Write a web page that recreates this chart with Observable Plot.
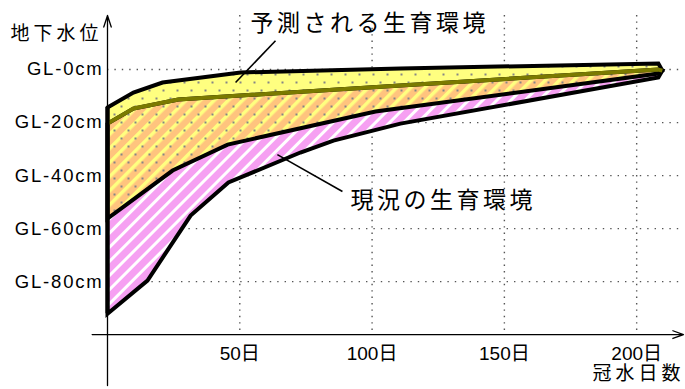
<!DOCTYPE html>
<html><head><meta charset="utf-8">
<script src="https://cdn.jsdelivr.net/npm/d3@7"></script>
<script src="https://cdn.jsdelivr.net/npm/@observablehq/plot@0.6"></script>
<style>body{margin:0;background:#fff} #chart svg{display:block}</style>
</head><body>
<svg width="0" height="0" style="position:absolute">
<defs>
 <pattern id="pinkStripes" width="10" height="10" patternUnits="userSpaceOnUse" patternTransform="rotate(-45)">
  <rect width="10" height="10" fill="#f6a0f2"/>
  <rect y="0" width="10" height="3" fill="#ffffff"/>
 </pattern>
 <pattern id="orangeStripes" width="10" height="10" patternUnits="userSpaceOnUse" patternTransform="rotate(-45)">
  <rect width="10" height="10" fill="#ffc47e"/>
  <rect y="0" width="10" height="3.5" fill="#ffff80"/>
 </pattern>
 <pattern id="dots" width="14" height="16" patternUnits="userSpaceOnUse">
  <rect x="1" y="1" width="2" height="2" fill="#858585"/>
  <rect x="8" y="9" width="2" height="2" fill="#858585"/>
 </pattern>
</defs></svg>
<div id="chart"></div>
<script>
// ---- data (days of flooding, depth below GL in cm) ----
const dayTicks = [50, 100, 150, 200];
const dayLabels = ["50日", "100日", "150日", "200日"];
const depthTicks = [0, 20, 40, 60, 80];
const depthLabels = ["GL-0cm", "GL-20cm", "GL-40cm", "GL-60cm", "GL-80cm"];

// predicted growth environment (upper / lower boundary)
const predictedUpper = [[0,14.3],[9.8,8.7],[20.8,4.9],[50.3,1.1],[110.7,-0.4],[208.2,-2.3],[209.7,0.4]];
const predictedLower = [[0,56.2],[24.6,38.1],[45.4,28.3],[101.3,15.8],[208.2,1.5],[209.7,0.4]];
// current growth environment (upper / lower boundary)
const currentUpper = [[0,20.4],[9.8,14.7],[26.8,11.3],[110.7,6.0],[208.2,0.0],[209.7,0.4]];
const currentLower = [[0,92.1],[15.1,79.6],[31.4,55.1],[45.7,42.6],[72.9,31.3],[85.4,26.8],[110.7,20.4],[208.2,3.0],[209.7,0.4]];

const callouts = [
  {label: "予測される生育環境", tx: 54.0, ty: -17.4, x1: 63.5, y1: -10.9, x2: 48.4, y2: 4.9},
  {label: "現況の生育環境", tx: 91.8, ty: 49.4, x1: 88.8, y1: 46.0, x2: 64.2, y2: 32.1}
];
const yTitle = "地下水位";
const xTitle = "冠水日数";

const ring = (a, b) => [...a, ...b.slice().reverse(), a[0]];
const predictedPoly = ring(predictedUpper, predictedLower);
const currentPoly = ring(currentUpper, currentLower);
const overlapPoly = ring(currentUpper, predictedLower);
const X = d => d[0], Y = d => d[1];

const font = "'Liberation Sans', 'Noto Sans CJK JP', sans-serif";
const xMin = -5.8, xMax = 217.7, yTop = -20.4, yBottom = 119.2;

const chart = Plot.plot({
  width: 685, height: 389,
  marginLeft: 107, marginRight: 2, marginTop: 15, marginBottom: 4,
  style: {fontFamily: font, background: "#fff", color: "#000"},
  x: {domain: [0, xMax], axis: null},
  y: {domain: [yTop, yBottom], reverse: true, axis: null},
  marks: [
    // grid
    Plot.ruleY(depthTicks, {x1: 0, x2: xMax, stroke: "#555", strokeWidth: 1.4, strokeDasharray: "1.4,6"}),
    Plot.ruleX(dayTicks, {y1: yTop, y2: 100, stroke: "#555", strokeWidth: 1.4, strokeDasharray: "1.4,5"}),
    // fills
    Plot.line(predictedPoly, {x: X, y: Y, fill: "#ffff80", stroke: "none"}),
    Plot.line(currentPoly, {x: X, y: Y, fill: "url(#pinkStripes)", stroke: "none"}),
    Plot.line(overlapPoly, {x: X, y: Y, fill: "url(#orangeStripes)", stroke: "none"}),
    Plot.line(predictedPoly, {x: X, y: Y, fill: "url(#dots)", stroke: "none"}),
    // outlines
    Plot.line(predictedPoly, {x: X, y: Y, stroke: "#000", strokeWidth: 4, strokeLinejoin: "miter", strokeMiterlimit: 4}),
    Plot.line(currentPoly, {x: X, y: Y, stroke: "#000", strokeWidth: 4, strokeLinejoin: "miter", strokeMiterlimit: 4}),
    Plot.line(currentUpper, {x: X, y: Y, stroke: "#7a7a00", strokeWidth: 4, strokeLinecap: "butt"}),
    Plot.ruleX([0], {y1: () => predictedUpper[0][1], y2: () => currentLower[0][1], stroke: "#000", strokeWidth: 4}),
    // axes
    Plot.arrow([0], {x1: xMin, y1: 100, x2: xMax, y2: 100, stroke: "#000", strokeWidth: 1.3, headAngle: 40, headLength: 13}),
    Plot.arrow([0], {x1: 0, y1: yBottom, x2: 0, y2: yTop, stroke: "#000", strokeWidth: 1.3, headAngle: 36, headLength: 14}),
    // tick labels
    Plot.text(depthTicks, {x: 0, y: d => d, text: (d, i) => depthLabels[i], textAnchor: "end", dx: -4, fontSize: 18.5}),
    Plot.text(dayTicks, {x: d => d, y: 100, text: (d, i) => dayLabels[i], dy: 19, fontSize: 19}),
    // titles
    Plot.text([yTitle], {x: -36.7, y: -13.6, text: d => d, textAnchor: "start", fontSize: 19}),
    Plot.text([xTitle], {x: 183.3, y: 114.7, text: d => d, textAnchor: "start", fontSize: 19}),
    // callouts
    Plot.link(callouts, {x1: "x1", y1: "y1", x2: "x2", y2: "y2", stroke: "#000", strokeWidth: 1.6}),
    Plot.text(callouts, {x: "tx", y: "ty", text: "label", textAnchor: "start", fontSize: 23})
  ]
});
const spacingFor = new Map([
  ...depthLabels.map(t => [t, "1.8px"]),
  [yTitle, "4px"], [xTitle, "4px"],
  ...callouts.map(c => [c.label, "3.5px"])
]);
d3.select(chart).selectAll("text").each(function() {
  const s = spacingFor.get(this.textContent);
  if (s) this.style.letterSpacing = s;
});
document.getElementById("chart").append(chart);
</script>
</body></html>
